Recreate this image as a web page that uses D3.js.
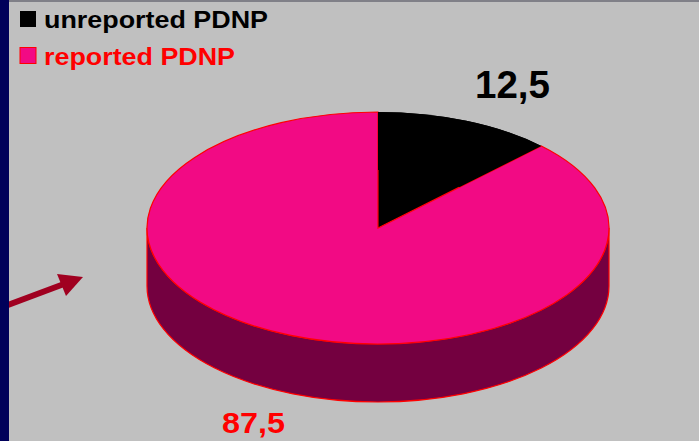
<!DOCTYPE html>
<html>
<head>
<meta charset="utf-8">
<script src="https://cdn.jsdelivr.net/npm/d3@7"></script>
<style>
  body { margin: 0; background: #c0c0c0; }
  svg { display: block; font-family: "Liberation Sans", Arial, sans-serif; font-weight: bold; }
</style>
</head>
<body>
<script>
// chart data
var categories = ["unreported PDNP", "reported PDNP"];
var values = [12.5, 87.5];
var valueLabels = ["12,5", "87,5"];
var topColors = ["#000000", "#f20a84"];
var textColors = ["#000000", "#ff0000"];

var svgWidth = 699, svgHeight = 441;

var svg = d3.select("body")
  .append("svg")
    .attr("width", svgWidth)
    .attr("height", svgHeight);

svg.append("rect")
  .attr("width", svgWidth).attr("height", svgHeight)
  .attr("fill", "#c0c0c0");

// pie geometry
var cx = 378, cy = 228, rx = 231, ry = 116, depth = 58;

var pie = d3.pie().sort(null).value(d => d);
var arcs = pie(values);

var arc = d3.arc().innerRadius(0).outerRadius(rx);

// front side of the cylinder (lower half of the ellipse, extruded)
var side = "M" + (cx + rx) + "," + cy +
  " A" + rx + "," + ry + " 0 0 1 " + (cx - rx) + "," + cy +
  " L" + (cx - rx) + "," + (cy + depth) +
  " A" + rx + "," + ry + " 0 0 0 " + (cx + rx) + "," + (cy + depth) + " Z";

svg.append("path")
  .attr("d", side)
  .attr("fill", "#740040")
  .attr("stroke", "#ff0000")
  .attr("stroke-width", 1.2);

// top face
var topFace = svg.append("g")
  .attr("transform", "translate(" + cx + "," + cy + ") scale(1," + (ry / rx) + ")");

topFace.selectAll("path.slice")
  .data(arcs)
  .enter().append("path")
    .attr("class", "slice")
    .attr("d", arc)
    .attr("fill", (d, i) => topColors[i])
    .attr("stroke", (d, i) => i === 1 ? "#ff0000" : "none")
    .attr("stroke-width", 1.2)
    .attr("vector-effect", "non-scaling-stroke");

// redraw black slice rim so the pink outline does not cover it
var rimArc = d3.arc().innerRadius(rx * 0.5).outerRadius(rx);
topFace.append("path")
  .attr("d", rimArc(arcs[0]))
  .attr("fill", topColors[0]);

// value labels
svg.append("text")
  .attr("x", 475).attr("y", 98)
  .attr("font-size", 38)
  .attr("textLength", 75).attr("lengthAdjust", "spacingAndGlyphs")
  .attr("fill", textColors[0])
  .text(valueLabels[0]);

svg.append("text")
  .attr("x", 222).attr("y", 433)
  .attr("font-size", 30)
  .attr("textLength", 63).attr("lengthAdjust", "spacingAndGlyphs")
  .attr("fill", textColors[1])
  .text(valueLabels[1]);

// arrow
var arrowColor = "#a00020";
svg.append("line")
  .attr("x1", 0).attr("y1", 308)
  .attr("x2", 64).attr("y2", 284)
  .attr("stroke", arrowColor)
  .attr("stroke-width", 6);
svg.append("path")
  .attr("d", "M57,274 L83,277 L66,296 Z")
  .attr("fill", arrowColor);

// legend
var legend = svg.selectAll("g.legend")
  .data(categories)
  .enter().append("g")
    .attr("class", "legend")
    .attr("transform", (d, i) => "translate(20," + (11 + i * 36.5) + ")");

legend.append("rect")
  .attr("width", 16).attr("height", 16)
  .attr("fill", (d, i) => topColors[i])
  .attr("stroke", (d, i) => i === 1 ? "#ff0000" : "none")
  .attr("stroke-width", 1);

var legendWidths = [224, 191];
legend.append("text")
  .attr("x", 24).attr("y", 17)
  .attr("font-size", 24)
  .attr("textLength", (d, i) => legendWidths[i])
  .attr("lengthAdjust", "spacingAndGlyphs")
  .attr("fill", (d, i) => textColors[i])
  .text(d => d);

// frame: top rule and left navy strip
svg.append("rect")
  .attr("x", 0).attr("y", 0).attr("width", svgWidth).attr("height", 2)
  .attr("fill", "#808088");
svg.append("rect")
  .attr("x", 0).attr("y", 0).attr("width", 9).attr("height", svgHeight)
  .attr("fill", "#00005a");
</script>
</body>
</html>
